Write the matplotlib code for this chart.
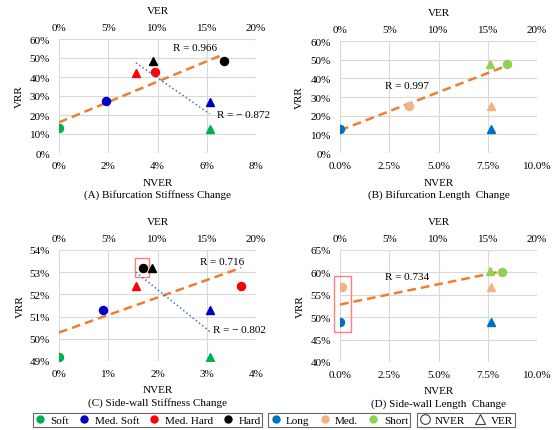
import numpy as np
import matplotlib.pyplot as plt
from matplotlib.lines import Line2D
from matplotlib.patches import Rectangle
from matplotlib.ticker import FuncFormatter, MultipleLocator

plt.rcParams['font.family'] = ['Liberation Serif', 'DejaVu Serif']
plt.rcParams['font.size'] = 8

# categories / colours
stiff_labels = ['Soft', 'Med. Soft', 'Med. Hard', 'Hard']
stiff_colors = ['#00B050', '#0000C0', '#FF0000', '#000000']
length_labels = ['Long', 'Med.', 'Short']
length_colors = ['#0070C0', '#F4B183', '#92D050']

# (A) bifurcation stiffness
a_nver = [0.0, 1.9, 3.9, 6.7]
a_nver_vrr = [13.0, 27.5, 42.5, 48.5]
a_ver = [15.3, 15.3, 7.8, 9.5]
a_ver_vrr = [12.5, 27.0, 42.0, 48.5]

# (B) bifurcation length
b_nver = [0.0, 3.5, 8.5]
b_nver_vrr = [13.0, 25.0, 47.5]
b_ver = [15.3, 15.3, 15.2]
b_ver_vrr = [13.0, 25.0, 47.5]

# (C) side-wall stiffness
c_nver = [0.0, 0.9, 3.7, 1.7]
c_nver_vrr = [49.2, 51.3, 52.4, 53.2]
c_ver = [15.3, 15.3, 7.8, 9.4]
c_ver_vrr = [49.2, 51.3, 52.4, 53.2]

# (D) side-wall length
d_nver = [0.0, 0.1, 8.2]
d_nver_vrr = [49.0, 56.8, 60.2]
d_ver = [15.3, 15.3, 15.2]
d_ver_vrr = [49.0, 56.8, 60.3]

W, H = 557, 431
fig = plt.figure(figsize=(W / 100, H / 100), dpi=100)


def px(x, y):
    return x / W, 1 - y / H


def panel(box, nver, nver_vrr, ver, ver_vrr, colors, xmax, xstep, xfmt,
          ylim, ystep, caption, rtexts, ver_fit, vrr_x):
    l, t, r, b = box
    ax = fig.add_axes([l / W, 1 - b / H, (r - l) / W, (b - t) / H])
    ax.set_xlim(0, xmax)
    ax.set_ylim(*ylim)
    ax.xaxis.set_major_locator(MultipleLocator(xstep))
    ax.yaxis.set_major_locator(MultipleLocator(ystep))
    ax.xaxis.set_major_formatter(FuncFormatter(lambda v, p: xfmt.format(v)))
    ax.yaxis.set_major_formatter(FuncFormatter(lambda v, p: '{:.0f}%'.format(v)))
    ax.grid(True, color='#D9D9D9', lw=0.8)
    ax.set_axisbelow(True)
    for s in ax.spines.values():
        s.set_visible(False)
    ax.tick_params(axis='x', length=0, pad=5.5, labelsize=8)
    ax.tick_params(axis='y', length=0, pad=6.5, labelsize=8)

    # NVER fit (orange dashed)
    k, c0 = np.polyfit(nver, nver_vrr, 1)
    xs = np.array([min(nver), max(nver)])
    ax.plot(xs, k * xs + c0, ls=(0, (3.5, 2)), color='#ED7D31', lw=1.8, zorder=2)
    for x, y, col in zip(nver, nver_vrr, colors):
        ax.plot(x, y, 'o', color=col, ms=5.8, zorder=3)

    ax2 = ax.twiny()
    ax2.set_xlim(0, 20)
    ax2.xaxis.set_major_locator(MultipleLocator(5))
    ax2.xaxis.set_major_formatter(FuncFormatter(lambda v, p: '{:.0f}%'.format(v)))
    for s in ax2.spines.values():
        s.set_visible(False)
    ax2.tick_params(length=0, pad=5, labelsize=8)
    if ver_fit:
        k2, c2 = np.polyfit(ver, ver_vrr, 1)
        xs2 = np.array([min(ver), max(ver)])
        ax2.plot(xs2, k2 * xs2 + c2, ls=':', color='#4472C4', lw=1.1, zorder=2)
    for x, y, col in zip(ver, ver_vrr, colors):
        ax2.plot(x, y, '^', color=col, ms=5.5, zorder=3)

    for (tx, ty, s) in rtexts:
        ax.text(tx, ty, s, fontsize=8, va='center', ha='left', zorder=4)

    cx = (l + r) / 2
    fig.text(*px(cx, t - 28), 'VER', ha='center', va='center', fontsize=8)
    fig.text(*px(cx, b + 29), 'NVER', ha='center', va='center', fontsize=8)
    fig.text(*px(cx, b + 41), caption, ha='center', va='center', fontsize=8)
    fig.text(*px(vrr_x, (t + b) / 2), 'VRR', ha='center', va='center',
             rotation=90, fontsize=8)
    return ax


ax_a = panel((59, 40, 256, 154), a_nver, a_nver_vrr, a_ver, a_ver_vrr, stiff_colors,
             8, 2, '{:.0f}%', (0, 60), 10, '(A) Bifurcation Stiffness Change',
             [(4.62, 55.3, 'R = 0.966'), (6.4, 20.5, 'R = \u2212 0.872')], True, 19)
ax_b = panel((340, 42, 537, 154), b_nver, b_nver_vrr, b_ver, b_ver_vrr, length_colors,
             10, 2.5, '{:.1f}%', (0, 60), 10, '(B) Bifurcation Length  Change',
             [(2.28, 36.4, 'R = 0.997')], False, 299)
ax_c = panel((59, 251, 256, 362), c_nver, c_nver_vrr, c_ver, c_ver_vrr, stiff_colors,
             4, 1, '{:.0f}%', (49, 54), 1, '(C) Side-wall Stiffness Change',
             [(2.86, 53.5, 'R = 0.716'), (3.13, 50.4, 'R = \u2212 0.802')], True, 20)
ax_d = panel((340, 251, 537, 363), d_nver, d_nver_vrr, d_ver, d_ver_vrr, length_colors,
             10, 2.5, '{:.1f}%', (40, 65), 5, '(D) Side-wall Length  Change',
             [(2.28, 59.0, 'R = 0.734')], False, 300)

# highlight boxes
ax_c.add_patch(Rectangle((1.55, 52.8), 0.28, 0.84, fill=False, ec='#FF7C80',
                         lw=1.0, zorder=5, clip_on=False))
ax_d.add_patch(Rectangle((-0.32, 46.7), 0.88, 12.4, fill=False, ec='#FF7C80',
                         lw=1.0, zorder=5, clip_on=False))


def legend(labels, handles, cx):
    lg = fig.legend(handles, labels, loc='center', bbox_to_anchor=(cx / W, 1 - 421 / H),
                    ncol=len(labels), frameon=True, fancybox=False, edgecolor='#404040',
                    fontsize=8, handlelength=1.0, handletextpad=0.45, columnspacing=0.85,
                    borderpad=0.15, borderaxespad=0)
    lg.get_frame().set_linewidth(0.8)


legend(stiff_labels, [Line2D([], [], ls='none', marker='o', color=c, ms=5)
                      for c in stiff_colors], 147.5)
legend(length_labels, [Line2D([], [], ls='none', marker='o', color=c, ms=5)
                       for c in length_colors], 339)
legend(['NVER', 'VER'], [Line2D([], [], ls='none', marker='o', mfc='white', mec='#404040', ms=7, mew=0.8),
                         Line2D([], [], ls='none', marker='^', mfc='white', mec='#404040', ms=7, mew=0.8)],
       466)

fig.savefig('out.png', dpi=100)
